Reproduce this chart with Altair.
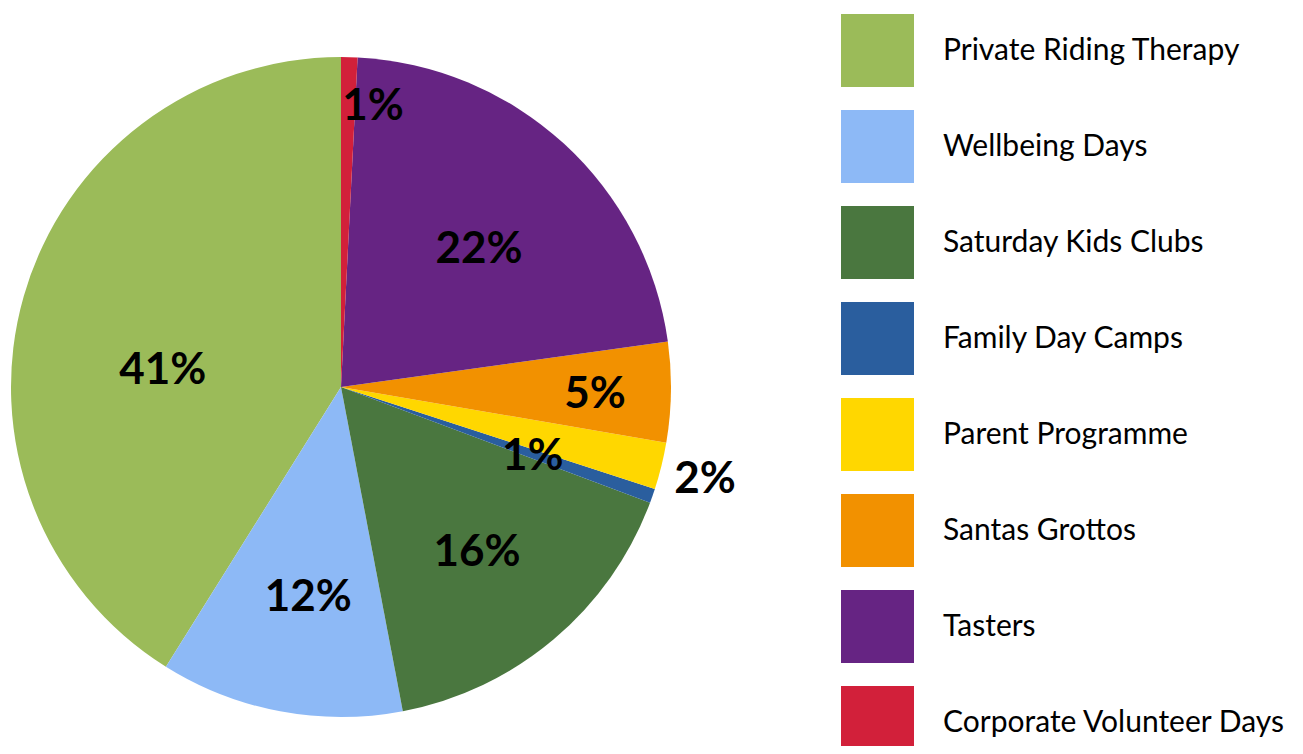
import altair as alt
import pandas as pd
import math

# Legend order (as shown in the reference)
categories = [
    "Private Riding Therapy",
    "Wellbeing Days",
    "Saturday Kids Clubs",
    "Family Day Camps",
    "Parent Programme",
    "Santas Grottos",
    "Tasters",
    "Corporate Volunteer Days",
]
shares = [41.1, 11.9, 16.3, 0.7, 2.3, 4.9, 22.0, 0.8]
labels = ["41%", "12%", "16%", "1%", "2%", "5%", "22%", "1%"]
# drawing order clockwise from 12 o'clock
slice_order = [7, 6, 5, 4, 3, 2, 1, 0]
colors = ["#9BBB59", "#8DB9F6", "#4A773F", "#2A5E9E", "#FFD700",
          "#F29100", "#662483", "#D2203A"]

df = pd.DataFrame({
    "name": categories,
    "share": shares,
    "label": labels,
    "ord": slice_order,
})

CX, CY, R = 333, 379, 330
theta_scale = alt.Scale(domain=[0, 100], range=[0, 2 * math.pi])

base = alt.Chart(df).transform_window(
    cum="sum(share)", sort=[alt.SortField("ord")], frame=[None, 0]
).transform_calculate(
    start="datum.cum - datum.share",
    mid="datum.cum - datum.share / 2",
)

pie = base.mark_arc(radius=R).encode(
    theta=alt.Theta("start:Q", scale=theta_scale),
    theta2="cum:Q",
    x=alt.value(CX),
    y=alt.value(CY),
    color=alt.Color(
        "name:N",
        scale=alt.Scale(domain=categories, range=colors),
        legend=alt.Legend(
            title=None,
            orient="none",
            legendX=833,
            legendY=6,
            symbolType="square",
            symbolSize=5329,
            symbolStrokeWidth=0,
            symbolOpacity=1,
            rowPadding=23,
            labelOffset=29,
            labelFont="Lato",
            labelFontSize=30,
            labelColor="#000000",
            labelLimit=400,
            padding=0,
        ),
    ),
)

# label placement styles: (category, radius, dx, dy)
label_styles = [
    ("Corporate Volunteer Days", 280, 25, 0),
    ("Tasters", 194, 7, 6),
    ("Santas Grottos", 254, 0, 4),
    ("Parent Programme", 376, -1, 3),
    ("Family Day Camps", 200, 3, 4),
    ("Saturday Kids Clubs", 214, -2, 2),
    ("Wellbeing Days", 215, 7, 0),
    ("Private Riding Therapy", 175, -10, 32),
]

layers = [pie]
for name, r, dx, dy in label_styles:
    layers.append(
        base.transform_filter(alt.datum.name == name).mark_text(
            radius=r, dx=dx, dy=dy, font="Lato", fontWeight="bold",
            fontSize=44, color="#000000", align="center", baseline="middle",
        ).encode(
            theta=alt.Theta("mid:Q", scale=theta_scale),
            x=alt.value(CX),
            y=alt.value(CY),
            text="label:N",
        )
    )

chart = alt.layer(*layers).properties(
    width=1287, height=738, padding=0, autosize="none"
).configure_view(stroke=None)

chart.save("out.html", embed_options={"renderer": "svg", "actions": False})
